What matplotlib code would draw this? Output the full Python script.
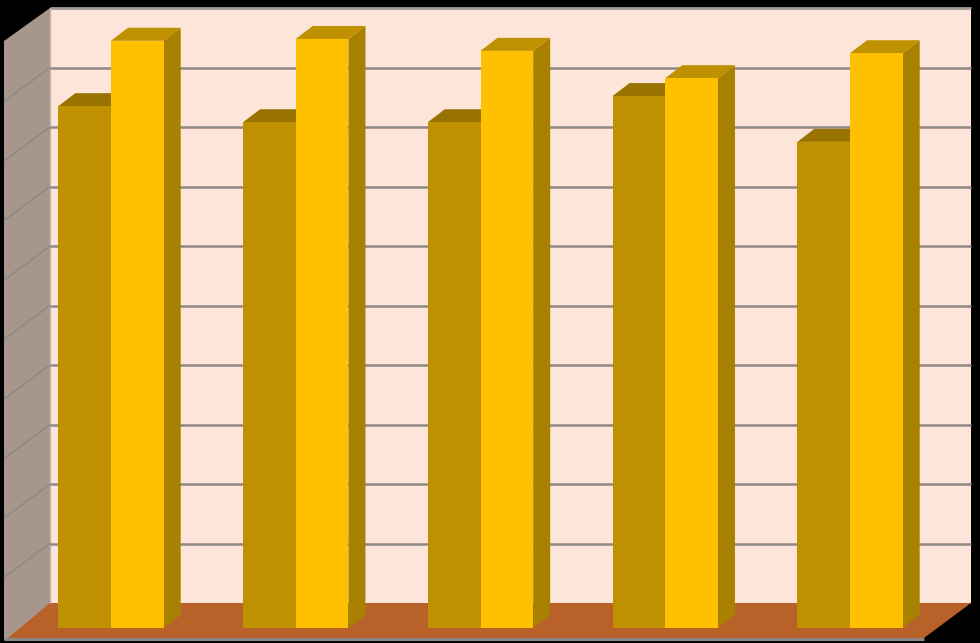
import matplotlib
matplotlib.use("Agg")
import matplotlib.pyplot as plt
import numpy as np

categories = [0, 1, 2, 3, 4]
series_a = [87.7, 85.0, 85.0, 89.4, 81.7]
series_b = [98.7, 99.0, 97.0, 92.4, 96.6]
grid_values = [0, 10, 20, 30, 40, 50, 60, 70, 80, 90, 100]

W, H = 980, 643
PX_X = 184.75         # pixels per category
PX_Y = 5.95           # pixels per value unit
BASE_Y = 628          # pixel row of value 0 at bar front
X0 = 111              # pixel column of first category centre
BAR_W = 52.7 / PX_X
BAR_DX, BAR_DY = 17 / PX_X, 13 / PX_Y

fig = plt.figure(figsize=(W / 100, H / 100), dpi=100, facecolor="black")
ax = fig.add_axes([0, 0, 1, 1])
ax.set_xlim(-X0 / PX_X, (W - X0) / PX_X)
ax.set_ylim(-(H - BASE_Y) / PX_Y, BASE_Y / PX_Y)
ax.axis("off")


def px(x, y):
    return (x - X0) / PX_X, (BASE_Y - y) / PX_Y


def poly(points, color, z):
    xy = np.array([px(*p) for p in points])
    ax.fill(xy[:, 0], xy[:, 1], color=color, lw=0, zorder=z)


def seg(p, q, color, lw, z):
    a, b = px(*p), px(*q)
    ax.plot([a[0], b[0]], [a[1], b[1]], color=color, lw=lw, zorder=z, solid_capstyle="butt")


# chamber
WALL_L, WALL_R, WALL_T, WALL_B = 50, 971, 8, 603
DX, DY = 46, 34
poly([(WALL_L, WALL_T), (WALL_R, WALL_T), (WALL_R, WALL_B), (WALL_L, WALL_B)], "#FDE6D9", 1)
poly([(WALL_L - DX, WALL_T + DY - 1), (WALL_L, WALL_T), (WALL_L, WALL_B + 2),
      (WALL_L - DX + 5, WALL_B + DY + 3), (WALL_L - DX, WALL_B + DY + 3)], "#A6968C", 2)
poly([(WALL_L - DX + 4, WALL_B + DY + 1), (WALL_L, WALL_B), (WALL_R, WALL_B), (WALL_R - DX - 1, WALL_B + DY + 1)], "#B8622A", 2.5)
seg((WALL_L, WALL_T), (WALL_R, WALL_T), "#A29A95", 2.0, 3)
seg((WALL_L - DX, WALL_B + DY + 2), (WALL_R - DX - 1, WALL_B + DY + 2), "#8E8683", 2.2, 3)
seg((WALL_L, WALL_T), (WALL_L, WALL_B), "#C4B4AA", 1.0, 3)

# gridlines, on back wall and running down the side wall
step = (WALL_B - WALL_T) / 10
for g in grid_values[1:-1]:
    y = WALL_B - g * step / 10
    seg((WALL_L, y), (WALL_R, y), "#8F8784", 1.8, 3)
    seg((WALL_L, y), (WALL_L - DX, y + DY), "#8F8584", 1.0, 3)

# bars
for i, (c, a, b) in enumerate(zip(categories, series_a, series_b)):
    z = 10 + i
    for j, (val, front, top, side) in enumerate([
        (a, "#BF9000", "#997300", "#8F6C00"),
        (b, "#FFC000", "#BF9000", "#A98100"),
    ]):
        left = c - BAR_W + j * BAR_W
        zz = z + j * 0.1
        ax.fill([left + BAR_W, left + BAR_W + BAR_DX, left + BAR_W + BAR_DX, left + BAR_W],
                [0, BAR_DY, val + BAR_DY, val], color=side, lw=0, zorder=zz)
        ax.fill([left, left + BAR_DX, left + BAR_W + BAR_DX, left + BAR_W],
                [val, val + BAR_DY, val + BAR_DY, val], color=top, lw=0, zorder=zz)
        ax.bar(left, val, width=BAR_W, align="edge", color=front, lw=0, zorder=zz + 0.01)

fig.savefig("out.png", dpi=100, facecolor="black")
